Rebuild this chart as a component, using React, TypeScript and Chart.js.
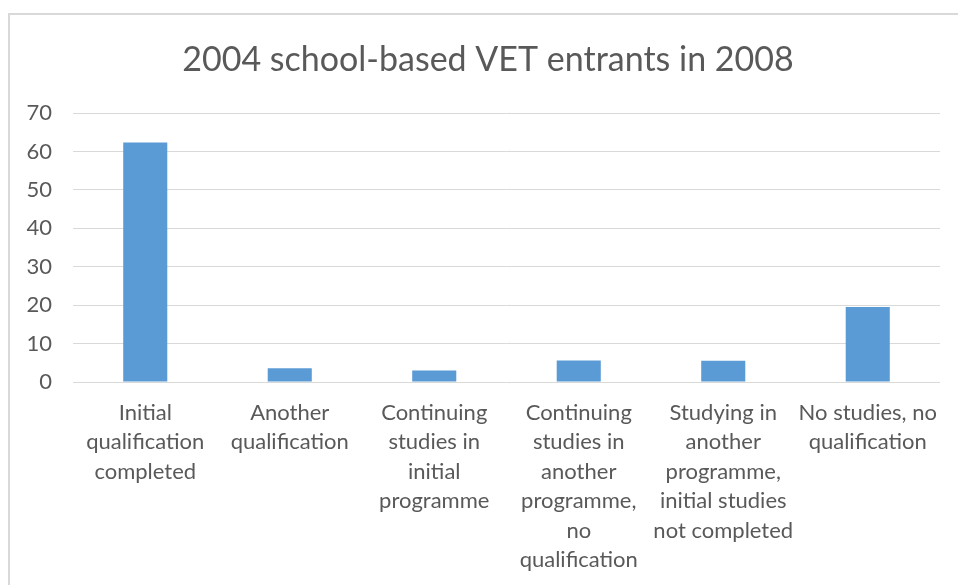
import React, { useEffect, useRef } from "react";
import { Chart, registerables } from "chart.js";

Chart.register(...registerables);

const titleText = "2004 school-based VET entrants in 2008";
const categories: string[][] = [
  ["Initial", "qualification", "completed"],
  ["Another", "qualification"],
  ["Continuing", "studies in", "initial", "programme"],
  ["Continuing", "studies in", "another", "programme,", "no", "qualification"],
  ["Studying in", "another", "programme,", "initial studies", "not completed"],
  ["No studies, no", "qualification"],
];
const values: number[] = [62.3, 3.6, 3.0, 5.6, 5.5, 19.5];
const yTicks = { min: 0, max: 70, step: 10 };

const FONT = "Lato, 'Open Sans', sans-serif";
const TEXT = "#595959";

const shiftTitle = {
  id: "shiftTitle",
  afterLayout(chart: any) {
    const t = chart.titleBlock;
    if (t) {
      t.left += 13;
      t.right += 13;
    }
  },
};

export default function App() {
  const ref = useRef<HTMLCanvasElement | null>(null);
  useEffect(() => {
    if (!ref.current) return;
    const chart = new Chart(ref.current, {
      type: "bar",
      data: {
        labels: categories,
        datasets: [
          {
            data: values,
            backgroundColor: "#5b9bd5",
            borderWidth: 0,
            categoryPercentage: 1,
            barPercentage: 0.305,
          },
        ],
      },
      plugins: [shiftTitle],
      options: {
        animation: false,
        responsive: false,
        maintainAspectRatio: false,
        layout: { padding: { left: 0, right: 20, top: 0, bottom: 0 } },
        plugins: {
          legend: { display: false },
          tooltip: { enabled: false },
          title: {
            display: true,
            text: titleText,
            color: TEXT,
            font: { family: FONT, size: 34, weight: "normal" },
            padding: { top: 24.6, bottom: 32.6 },
          },
        },
        scales: {
          x: {
            grid: { display: false },
            border: { display: false },
            ticks: {
              color: TEXT,
              font: { family: FONT, size: 22, lineHeight: 1.34 },
              autoSkip: false,
              maxRotation: 0,
              minRotation: 0,
              padding: 8,
            },
            afterFit: (s: any) => {
              s.height = 205;
            },
          },
          y: {
            min: yTicks.min,
            max: yTicks.max,
            grid: { color: "#d9d9d9", lineWidth: 1, drawTicks: false },
            border: { display: false },
            ticks: {
              stepSize: yTicks.step,
              color: TEXT,
              font: { family: FONT, size: 22 },
              padding: 21,
            },
            afterFit: (s: any) => {
              s.width = 63;
            },
          },
        },
      },
    });
    return () => chart.destroy();
  }, []);
  return (
    <div
      style={{
        position: "fixed",
        left: 8,
        top: 13,
        width: 950,
        height: 572,
        borderTop: "2px solid #d9d9d9",
        borderLeft: "2px solid #d9d9d9",
        background: "#fff",
        overflow: "hidden",
      }}
    >
      <canvas ref={ref} width={950} height={572} style={{ display: "block" }} />
    </div>
  );
}
